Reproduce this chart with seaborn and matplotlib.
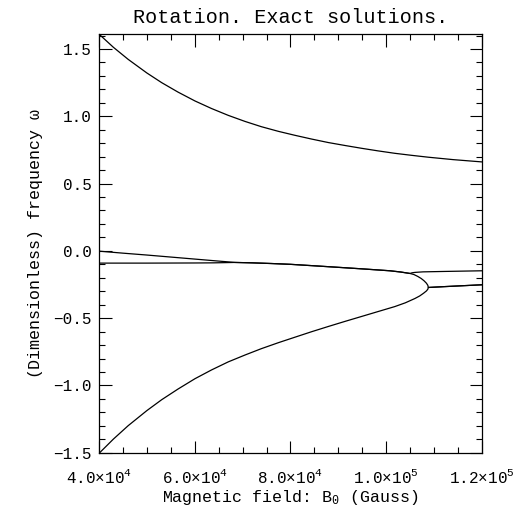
import matplotlib
matplotlib.use('agg')
import matplotlib.pyplot as plt
from matplotlib.ticker import MultipleLocator
import pandas as pd
import seaborn as sns

# root tracks, B in Gauss, omega dimensionless
b_top = [40e3, 43e3, 46.1e3, 50e3, 53.1e3, 56.5e3, 60.05e3, 63.5e3, 67e3, 70.5e3, 73.9e3,
         77.5e3, 80.9e3, 84.4e3, 87.9e3, 91.4e3, 94.9e3, 98.3e3, 101.8e3, 105.3e3,
         108.8e3, 114e3, 120e3]
w_top = [1.611, 1.513, 1.423, 1.322, 1.250, 1.180, 1.114, 1.058, 1.007, 0.962, 0.923,
         0.888, 0.859, 0.831, 0.805, 0.783, 0.762, 0.743, 0.725, 0.710,
         0.696, 0.678, 0.661]

b_mid1 = [40e3, 45e3, 50e3, 55e3, 60e3, 64e3, 68.4e3, 72e3, 76e3, 80e3, 85e3, 90.3e3,
          95.5e3, 100.8e3, 103e3, 105e3, 105.4e3, 106e3, 107.7e3, 112e3, 120e3]
w_mid1 = [-0.002, -0.017, -0.031, -0.046, -0.061, -0.073, -0.086, -0.089, -0.094, -0.100,
          -0.111, -0.123, -0.135, -0.148, -0.157, -0.168, -0.163, -0.160, -0.156, -0.153, -0.148]

b_mid2 = [40e3, 50e3, 60e3, 64e3, 68.4e3, 72e3, 76e3, 80e3, 85e3, 90.3e3, 95.5e3, 100.8e3,
          103e3, 105e3, 105.8e3, 106.6e3, 107.3e3, 107.9e3, 108.4e3, 108.7e3, 108.8e3,
          112e3, 116e3, 120e3]
w_mid2 = [-0.091, -0.091, -0.090, -0.089, -0.086, -0.089, -0.094, -0.100, -0.111, -0.123,
          -0.135, -0.148, -0.157, -0.168, -0.176, -0.190, -0.205, -0.222, -0.240, -0.256,
          -0.272, -0.266, -0.259, -0.252]

b_low = [40e3, 43e3, 46.1e3, 50e3, 53.1e3, 56.5e3, 60.05e3, 63.5e3, 67e3, 70.5e3, 73.9e3,
         77.5e3, 80.9e3, 84.4e3, 87.9e3, 91.4e3, 94.9e3, 98.3e3, 101.8e3, 104e3, 106e3,
         107e3, 107.8e3, 108.4e3, 108.7e3, 108.8e3, 112e3, 116e3, 120e3]
w_low = [-1.505, -1.399, -1.299, -1.187, -1.106, -1.027, -0.950, -0.885, -0.825, -0.774,
         -0.727, -0.682, -0.642, -0.601, -0.562, -0.524, -0.487, -0.451, -0.414, -0.386,
         -0.354, -0.335, -0.315, -0.298, -0.285, -0.272, -0.266, -0.259, -0.252]

xtick_values = [4e4, 6e4, 8e4, 1e5, 1.2e5]
xtick_labels = [r'4.0$\times$10$^{4}$', r'6.0$\times$10$^{4}$', r'8.0$\times$10$^{4}$',
                r'1.0$\times$10$^{5}$', r'1.2$\times$10$^{5}$']
ytick_values = [-1.5, -1.0, -0.5, 0.0, 0.5, 1.0, 1.5]
ytick_labels = ['\u22121.5', '\u22121.0', '\u22120.5', '0.0', '0.5', '1.0', '1.5']

frames = []
for name, b, w in [('top', b_top, w_top), ('mid1', b_mid1, w_mid1),
                   ('mid2', b_mid2, w_mid2), ('low', b_low, w_low)]:
    frames.append(pd.DataFrame({'B': b, 'omega': w, 'root': name}))
data = pd.concat(frames, ignore_index=True)

sns.set_theme(style='ticks')
plt.rcParams['font.family'] = ['Liberation Mono', 'DejaVu Serif']
plt.rcParams['mathtext.fontset'] = 'custom'
plt.rcParams['mathtext.rm'] = 'Liberation Mono'
plt.rcParams['mathtext.it'] = 'Liberation Mono:italic'
plt.rcParams['mathtext.default'] = 'regular'

fig = plt.figure(figsize=(5.21, 5.14), dpi=100)
ax = fig.add_axes([0.190, 0.1187, 0.735, 0.815])

sns.lineplot(data=data, x='B', y='omega', units='root', estimator=None, sort=False,
             color='black', linewidth=0.9, ax=ax, legend=False)

ax.set_xlim(4e4, 1.2e5)
ax.set_ylim(-1.502, 1.611)
ax.set_xticks(xtick_values)
ax.set_xticklabels(xtick_labels)
ax.set_yticks(ytick_values)
ax.set_yticklabels(ytick_labels)
ax.xaxis.set_minor_locator(MultipleLocator(5e3))
ax.yaxis.set_minor_locator(MultipleLocator(0.1))
ax.tick_params(which='both', direction='in', top=True, right=True, color='black',
               width=0.8, labelsize=11.5, labelcolor='black')
ax.tick_params(which='major', length=9)
ax.tick_params(axis='x', which='major', pad=11)
ax.tick_params(axis='y', which='major', pad=5)
ax.tick_params(which='minor', length=4.5)
for s in ax.spines.values():
    s.set_color('black')
    s.set_linewidth(0.9)

ax.set_xlabel(r'Magnetic field: B$_0$ (Gauss)', fontsize=12, color='black', labelpad=1)
ax.set_ylabel(r'(Dimensionless) frequency $\omega$', fontsize=12, color='black', labelpad=6)
ax.set_title('Rotation. Exact solutions.', fontsize=14.5, color='black', pad=8)

fig.savefig('out.png', dpi=100, facecolor='white')
